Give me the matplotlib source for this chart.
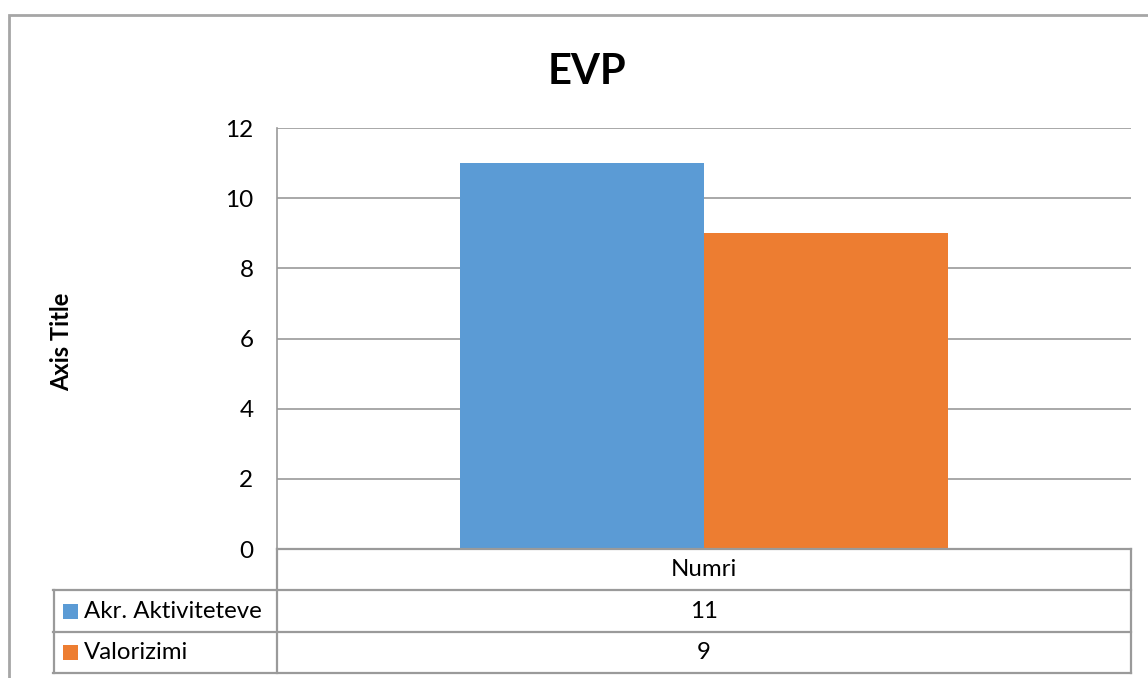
import matplotlib
matplotlib.use("Agg")
import matplotlib.pyplot as plt
from matplotlib.patches import Rectangle
from matplotlib.lines import Line2D

plt.rcParams['font.family'] = ['Lato', 'DejaVu Sans']

title = "EVP"
axis_title = "Axis Title"
category = "Numri"
series_names = ["Akr. Aktiviteteve", "Valorizimi"]
series_values = [11, 9]
colors = ["#5B9BD5", "#ED7D31"]
yticks = [0, 2, 4, 6, 8, 10, 12]

W, H = 1148, 678
fig = plt.figure(figsize=(W / 100, H / 100), dpi=100)

def fx(px):
    return px / W

def fy(py):
    return 1 - py / H

# axes area
L, R, T, B = 277, 1131, 128, 549
ax = fig.add_axes([fx(L), fy(B), fx(R) - fx(L), fy(T) - fy(B)])
bw = 244 / (R - L)
n = len(series_values)
for i, (v, c) in enumerate(zip(series_values, colors)):
    x = (i - (n - 1) / 2) * bw
    ax.bar(x, v, width=bw, color=c, zorder=3)
ax.set_xlim(-0.5, 0.5)
ax.set_ylim(0, 12)
ax.set_yticks(yticks)
ax.set_yticklabels([str(t) for t in yticks], fontsize=17.5)
ax.set_xticks([])
ax.tick_params(axis='y', length=0, pad=17)
ax.grid(axis='y', color='#9a9a9a', linewidth=1.2, zorder=0)
for s in ['top', 'right', 'bottom']:
    ax.spines[s].set_visible(False)
ax.spines['left'].set_color('#9a9a9a')
ax.spines['left'].set_linewidth(1.2)

fig.text(fx(62), fy(342), axis_title, fontsize=17, fontweight='bold', rotation=90,
         ha='center', va='center')
fig.text(fx(587), fy(72), title, fontsize=30, fontweight='bold', ha='center', va='center')

# outer border
fig.patches.append(Rectangle((fx(9), -0.1), 1.2, fy(15) + 0.1, transform=fig.transFigure,
                             fill=False, edgecolor='#a6a6a6', linewidth=2))

# data table
gc = '#9a9a9a'
rows = [549, 590, 632, 673]
def hline(y, x0, x1):
    fig.add_artist(Line2D([fx(x0), fx(x1)], [fy(y), fy(y)], color=gc, linewidth=1.6))
def vline(x, y0, y1):
    fig.add_artist(Line2D([fx(x), fx(x)], [fy(y0), fy(y1)], color=gc, linewidth=1.6))

hline(rows[0], L, R)
for y in rows[1:]:
    hline(y, 53, R)
vline(L, rows[0], rows[-1])
vline(R, rows[0], rows[-1])
vline(54, rows[1], rows[-1])

cx = (L + R) / 2
fs = 17.3
fig.text(fx(cx), fy((rows[0] + rows[1]) / 2), category, fontsize=fs, ha='center', va='center')
for i, (name, v, c) in enumerate(zip(series_names, series_values, colors)):
    yc = (rows[i + 1] + rows[i + 2]) / 2
    fig.patches.append(Rectangle((fx(63), fy(yc + 7.5)), fx(15), 15 / H, transform=fig.transFigure,
                                 facecolor=c, edgecolor='none'))
    fig.text(fx(84), fy(yc), name, fontsize=fs, ha='left', va='center')
    fig.text(fx(cx), fy(yc), str(v), fontsize=fs, ha='center', va='center')

fig.savefig("out.png", dpi=100)
